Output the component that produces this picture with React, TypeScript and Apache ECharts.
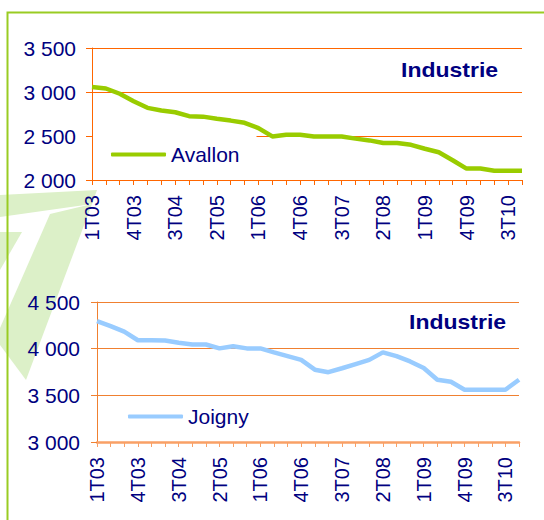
import React, { useEffect, useRef } from "react";
import * as echarts from "echarts";

const quarters = [
  "1T03", "2T03", "3T03", "4T03", "1T04", "2T04", "3T04", "4T04",
  "1T05", "2T05", "3T05", "4T05", "1T06", "2T06", "3T06", "4T06",
  "1T07", "2T07", "3T07", "4T07", "1T08", "2T08", "3T08", "4T08",
  "1T09", "2T09", "3T09", "4T09", "1T10", "2T10", "3T10", "4T10",
];

const avallon = [
  3057, 3040, 2980, 2895, 2820, 2790, 2770, 2725,
  2720, 2695, 2675, 2650, 2590, 2495, 2515, 2515,
  2495, 2495, 2495, 2470, 2450, 2420, 2420, 2400,
  2355, 2315, 2225, 2130, 2130, 2105, 2105, 2105,
];

const joigny = [
  4295, 4242, 4182, 4090, 4090, 4087, 4063, 4045,
  4045, 4003, 4025, 4003, 4003, 3960, 3920, 3880,
  3775, 3748, 3790, 3835, 3880, 3960, 3920, 3863,
  3793, 3667, 3645, 3560, 3560, 3560, 3560, 3667,
];

const panelTitle = "Industrie";

const FONT = "'Liberation Sans', Arial, sans-serif";
const NAVY = "#000080";

const fmt = (v: number) => `${Math.floor(v / 1000)} ${String(v % 1000).padStart(3, "0")}`;

export default function App() {
  const ref = useRef<HTMLDivElement>(null);
  useEffect(() => {
    if (!ref.current) return;
    const chart = echarts.init(ref.current, null, { renderer: "svg" });

    const xAxisBase = (gridIndex: number, lineColor: string, lineWidth: number) => ({
      type: "category",
      gridIndex,
      data: quarters,
      boundaryGap: false,
      axisLine: { show: true, lineStyle: { color: lineColor, width: lineWidth } },
      axisTick: { show: true, interval: 0, length: 5, lineStyle: { color: lineColor, width: 1 } },
      axisLabel: {
        interval: 2,
        rotate: 90,
        margin: 15,
        color: NAVY,
        fontSize: 20,
        fontFamily: FONT,
      },
      splitLine: { show: false },
    });

    const yAxisBase = (gridIndex: number, min: number, max: number, color: string, margin: number) => ({
      type: "value",
      gridIndex,
      min,
      max,
      interval: 500,
      axisLine: { show: true, lineStyle: { color, width: 1 } },
      axisTick: { show: true, length: 6, lineStyle: { color } },
      axisLabel: {
        formatter: fmt,
        color: NAVY,
        fontSize: 21,
        fontFamily: FONT,
        margin,
      },
      splitLine: { show: true, lineStyle: { color, width: 1 } },
    });

    chart.setOption({
      animation: false,
      backgroundColor: "#ffffff",
      textStyle: { fontFamily: FONT },
      graphic: [
        {
          type: "polygon",
          z: -10,
          shape: { points: [[0, 195], [97, 190], [92, 204], [0, 217]] },
          style: { fill: "#dcf0c8" },
        },
        {
          type: "polygon",
          z: -10,
          shape: { points: [[50, 214], [92, 204], [26, 380], [0, 345], [0, 328]] },
          style: { fill: "#dcf0c8" },
        },
        {
          type: "polygon",
          z: -10,
          shape: { points: [[0, 232], [22, 232], [0, 270]] },
          style: { fill: "#dcf0c8" },
        },
        {
          type: "polyline",
          z: -5,
          shape: { points: [[7.5, 530], [7.5, 12.5], [560, 12.5]] },
          style: { stroke: "#99cc22", lineWidth: 2, fill: "none" },
        },
        {
          type: "text",
          x: 401,
          y: 70,
          scaleX: 1.15,
          style: {
            text: panelTitle,
            fill: NAVY,
            font: `bold 20px ${FONT}`,
            textVerticalAlign: "middle",
            verticalAlign: "middle",
          },
        },
        {
          type: "text",
          x: 409,
          y: 322,
          scaleX: 1.15,
          style: {
            text: panelTitle,
            fill: NAVY,
            font: `bold 20px ${FONT}`,
            textVerticalAlign: "middle",
            verticalAlign: "middle",
          },
        },
      ],
      grid: [
        { left: 92, right: 22, top: 48, height: 132, containLabel: false },
        { left: 97, right: 25, top: 302, height: 140, containLabel: false },
      ],
      xAxis: [xAxisBase(0, "#ff6600", 1), xAxisBase(1, "#f9a066", 2.5)],
      yAxis: [
        yAxisBase(0, 2000, 3500, "#ff6600", 16),
        yAxisBase(1, 3000, 4500, "#f08030", 17),
      ],
      legend: [
        {
          data: ["Avallon"],
          left: 93,
          top: 134,
          padding: [10, 17, 10, 18],
          backgroundColor: "#ffffff",
          icon: "roundRect",
          itemWidth: 55,
          itemHeight: 4,
          textStyle: { color: NAVY, fontSize: 21, fontFamily: FONT },
        },
        {
          data: ["Joigny"],
          left: 128,
          top: 406,
          padding: 0,
          icon: "roundRect",
          itemWidth: 55,
          itemHeight: 4,
          textStyle: { color: NAVY, fontSize: 21, fontFamily: FONT },
        },
      ],
      series: [
        {
          name: "Avallon",
          type: "line",
          xAxisIndex: 0,
          yAxisIndex: 0,
          data: avallon,
          showSymbol: false,
          symbol: "none",
          color: "#99cc00",
          lineStyle: { color: "#99cc00", width: 4.5 },
        },
        {
          name: "Joigny",
          type: "line",
          xAxisIndex: 1,
          yAxisIndex: 1,
          data: joigny,
          showSymbol: false,
          symbol: "none",
          color: "#99ccff",
          lineStyle: { color: "#99ccff", width: 4.5 },
        },
      ],
    });
    return () => chart.dispose();
  }, []);

  return (
    <div
      ref={ref}
      style={{ position: "absolute", left: 0, top: 0, width: 544, height: 520 }}
    />
  );
}
